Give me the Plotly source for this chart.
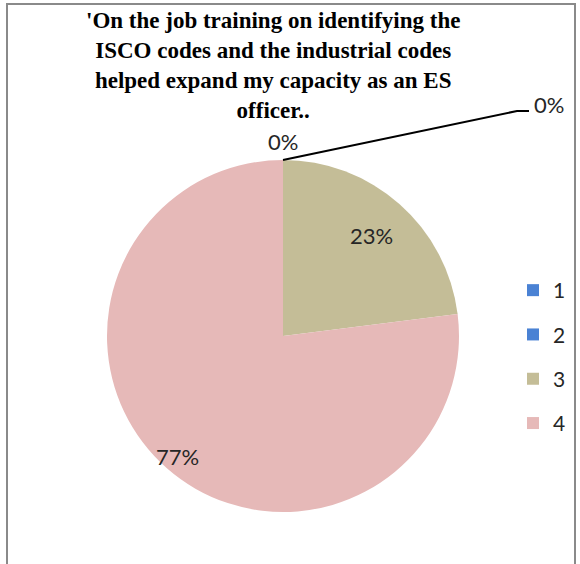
import plotly.graph_objects as go
import math

categories = ["1", "2", "3", "4"]
values = [0, 0, 23, 77]
colors = ["#4A82D4", "#4A82D4", "#C4BD97", "#E6B9B8"]
title_lines = ["'On the job training on identifying the",
               "ISCO codes and the industrial codes",
               "helped expand my capacity as an ES",
               "officer.."]

W, H = 580, 564
CX, CY, R = 283, 336, 176          # pie centre / radius in pixels
LABEL_R = [1.0, 1.0, 0.76, 0.91]   # label radius as fraction of pie radius
LABEL_FONT = dict(family="Lato, sans-serif", size=22, color="#262626")

fig = go.Figure()

fig.add_trace(go.Pie(
    labels=categories, values=values, sort=False, direction="clockwise",
    rotation=0, marker=dict(colors=colors, line=dict(width=0)),
    textinfo="none", showlegend=False, hoverinfo="label+percent",
    domain=dict(x=[(CX - R) / W, (CX + R) / W], y=[1 - (CY + R) / H, 1 - (CY - R) / H]),
))

# percentage labels of non-zero slices, placed near the slice mid-angle
total = sum(values)
cum = 0
for v, fr in zip(values, LABEL_R):
    mid = (cum + v / 2) / total * 2 * math.pi
    cum += v
    if v == 0:
        continue
    px = CX + fr * R * math.sin(mid)
    py = CY - fr * R * math.cos(mid)
    fig.add_annotation(x=px / W, y=1 - py / H, xref="paper", yref="paper",
                       text=f"{round(v / total * 100)}%", showarrow=False,
                       xanchor="center", yanchor="middle", font=LABEL_FONT)

# legend entries
for c, col in zip(categories, colors):
    fig.add_trace(go.Scatter(
        x=[None], y=[None], mode="markers", name=c, legendgroup=c,
        marker=dict(symbol="square", size=12, color=col),
    ))

# zero-value slice labels
zero_labels = [v for v in values if v == 0]
fig.add_annotation(x=283 / W, y=1 - 141 / H, xref="paper", yref="paper",
                   text=f"{zero_labels[0]}%", showarrow=False,
                   xanchor="center", yanchor="middle", font=LABEL_FONT)
fig.add_annotation(x=532 / W, y=1 - 104 / H, xref="paper", yref="paper",
                   text=f"{zero_labels[1]}%", showarrow=False,
                   xanchor="left", yanchor="middle", font=LABEL_FONT)
fig.add_shape(type="path", xref="paper", yref="paper",
              path=f"M {283/W} {1-160/H} L {517/W} {1-111/H} L {529/W} {1-111/H}",
              line=dict(color="black", width=2))

# chart frame
fig.add_shape(type="rect", xref="paper", yref="paper",
              x0=7 / W, x1=575 / W, y0=-0.02, y1=1 - 4 / H,
              line=dict(color="#8a8a8a", width=2))

fig.add_annotation(x=273 / W, y=1 - 6 / H, xref="paper", yref="paper",
                   xanchor="center", yanchor="top", showarrow=False,
                   text="<b>" + "<br>".join(title_lines) + "</b>",
                   font=dict(family="Liberation Serif, Times New Roman, serif",
                             size=23, color="black"))

fig.update_layout(
    width=W, height=H, margin=dict(l=0, r=0, t=0, b=0),
    paper_bgcolor="white", plot_bgcolor="white",
    xaxis=dict(visible=False), yaxis=dict(visible=False),
    legend=dict(x=513 / W, y=1 - 270 / H, xanchor="left", yanchor="top",
                tracegroupgap=14, itemwidth=30,
                font=dict(family="Lato, sans-serif", size=21, color="#262626"),
                bgcolor="rgba(0,0,0,0)"),
)

fig.write_html("out.html")
